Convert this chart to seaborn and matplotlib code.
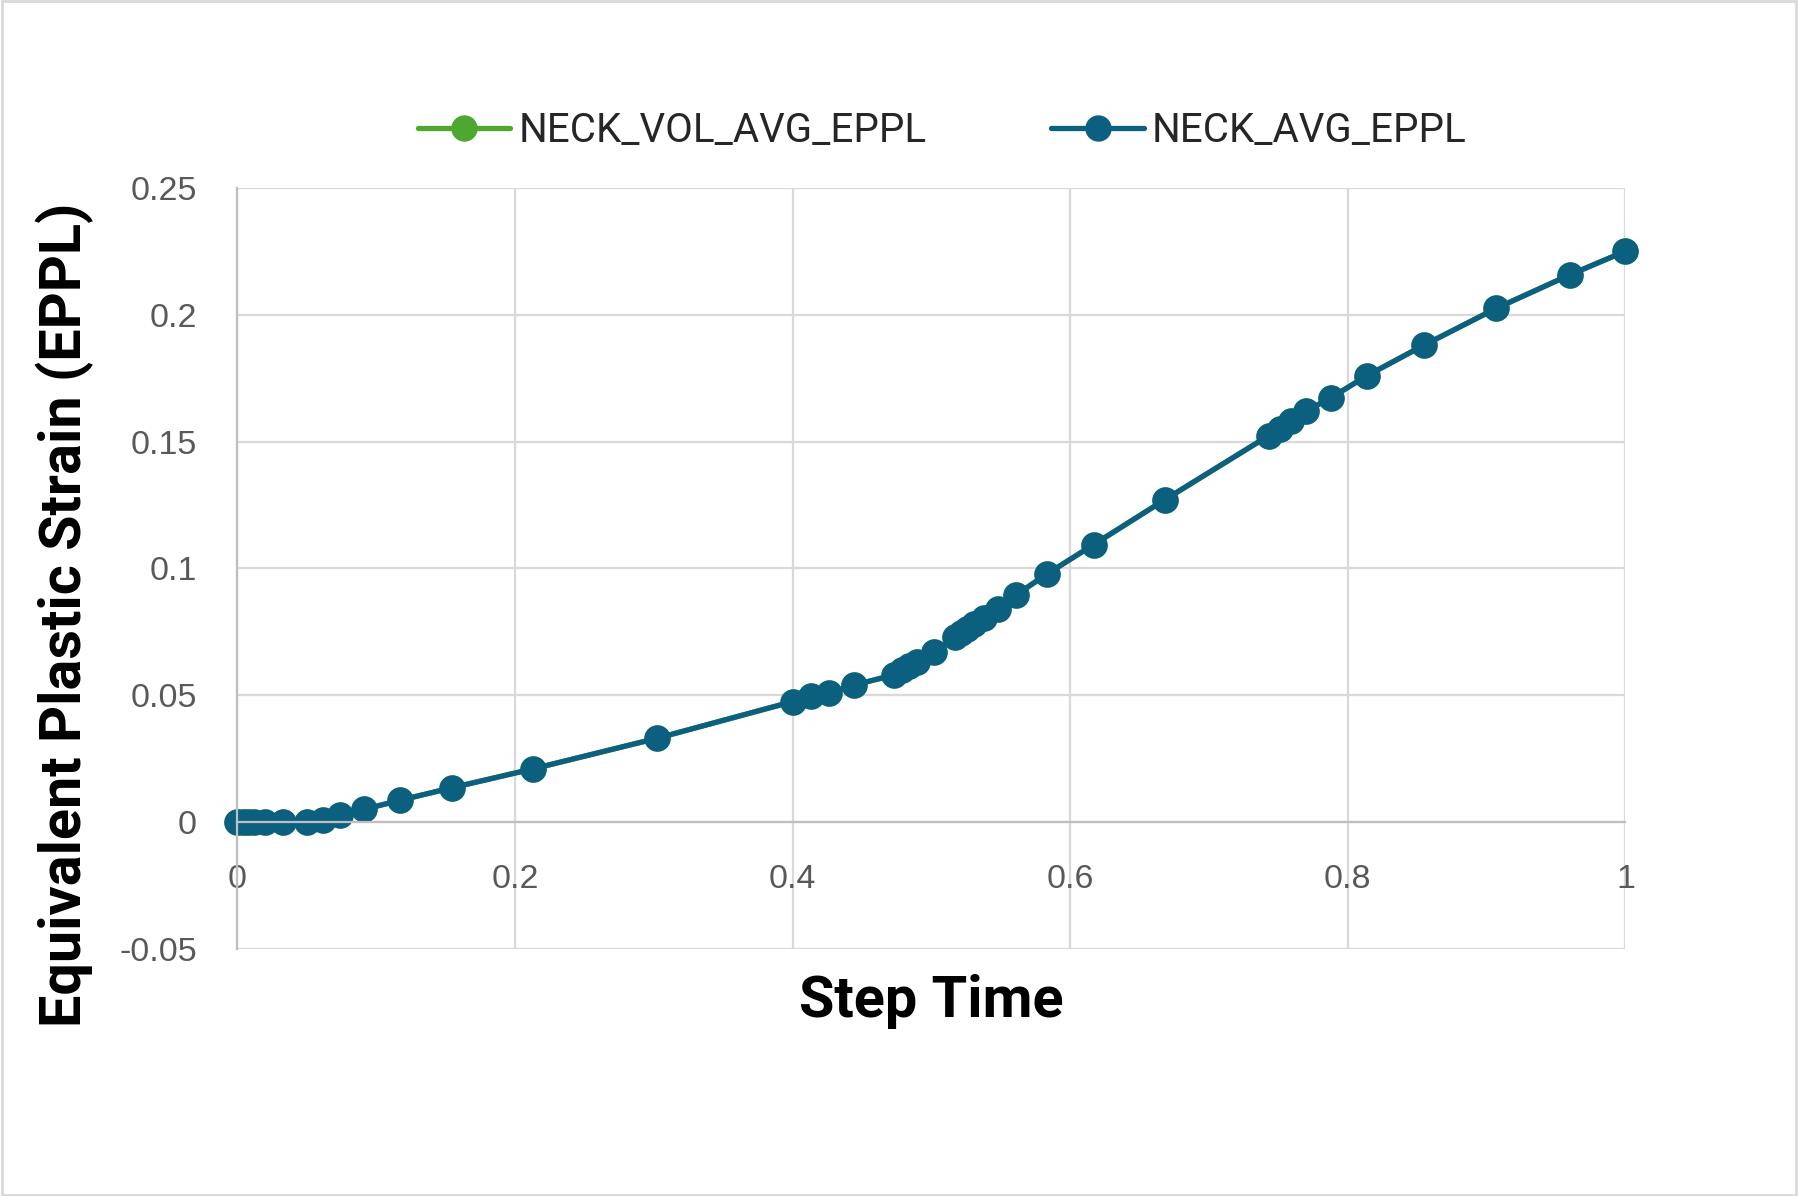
import matplotlib
matplotlib.use("Agg")
import matplotlib.pyplot as plt
import seaborn as sns
import pandas as pd
from matplotlib.patches import Rectangle

step_time = [0.0, 0.004, 0.008, 0.012, 0.02, 0.033, 0.05, 0.062, 0.074, 0.091,
             0.117, 0.155, 0.213, 0.302, 0.400, 0.413, 0.426, 0.444, 0.473, 0.479,
             0.484, 0.490, 0.502, 0.517, 0.521, 0.526, 0.531, 0.538, 0.548, 0.561,
             0.583, 0.617, 0.668, 0.743, 0.751, 0.759, 0.770, 0.788, 0.814, 0.855,
             0.907, 0.960, 1.000]
neck_avg_eppl = [0.0, 0.0, 0.0, 0.0, 0.0, 0.0, 0.0, 0.001, 0.0027, 0.005,
                 0.0086, 0.0136, 0.021, 0.033, 0.0475, 0.0497, 0.051, 0.054, 0.058, 0.060,
                 0.0615, 0.063, 0.067, 0.073, 0.0746, 0.076, 0.078, 0.0805, 0.084, 0.0895,
                 0.0977, 0.1094, 0.127, 0.1523, 0.155, 0.158, 0.162, 0.1673, 0.176, 0.188,
                 0.2025, 0.2157, 0.225]
neck_vol_avg_eppl = list(neck_avg_eppl)

series_names = ["NECK_VOL_AVG_EPPL", "NECK_AVG_EPPL"]
series_colors = ["#4EA72E", "#0B6080"]
x_ticks = [0, 0.2, 0.4, 0.6, 0.8, 1]
x_ticklabels = ["0", "0.2", "0.4", "0.6", "0.8", "1"]
y_ticks = [-0.05, 0, 0.05, 0.1, 0.15, 0.2, 0.25]
y_ticklabels = ["-0.05", "0", "0.05", "0.1", "0.15", "0.2", "0.25"]

df = pd.DataFrame({
    "Step Time": step_time + step_time,
    "EPPL": neck_vol_avg_eppl + neck_avg_eppl,
    "Series": [series_names[0]] * len(step_time) + [series_names[1]] * len(step_time),
})

sns.set_theme(style="white")
plt.rcParams["font.family"] = ["Liberation Sans", "DejaVu Sans"]

fig = plt.figure(figsize=(17.98, 11.96), dpi=100)
ax = fig.add_axes([0.132, 0.2065, 0.772, 0.6365])

sns.lineplot(data=df, x="Step Time", y="EPPL", hue="Series", hue_order=series_names,
             palette=series_colors, estimator=None, sort=False, marker="o",
             markersize=19, markeredgewidth=0, linewidth=3.8, legend=False, ax=ax)
for ln in ax.lines:
    ln.set_clip_on(False)

ax.set_xlim(0, 1)
ax.set_ylim(-0.05, 0.25)
ax.set_xticks(x_ticks)
ax.set_xticklabels(x_ticklabels)
ax.set_yticks(y_ticks)
ax.set_yticklabels(y_ticklabels)
ax.grid(True, color="#d9d9d9", linewidth=1.6)
ax.set_axisbelow(True)
for s in ["top", "right"]:
    ax.spines[s].set_visible(False)
ax.spines["left"].set_color("#bfbfbf")
ax.spines["left"].set_linewidth(1.6)
ax.spines["bottom"].set_position(("data", 0))
ax.spines["bottom"].set_color("#bfbfbf")
ax.spines["bottom"].set_linewidth(1.6)
ax.tick_params(axis="x", length=0, pad=30, labelsize=24.5, labelcolor="#595959")
ax.tick_params(axis="y", length=0, pad=29, labelsize=24.5, labelcolor="#595959")
for lab in ax.get_xticklabels() + ax.get_yticklabels():
    lab.set_family(["Liberation Sans", "DejaVu Sans"])

ax.set_xlabel("")
ax.set_ylabel("")
label_font = ["Roboto", "DejaVu Sans"]
fig.text(0.036, 0.486, "Equivalent Plastic Strain (EPPL)", rotation=90, ha="center",
         va="center", fontsize=41.5, fontweight="bold", family=label_font, color="black")
fig.text(0.518, 0.163, "Step Time", ha="center", va="center", fontsize=41.5,
         fontweight="bold", family=label_font, color="black")

handles = ax.lines[:2]
fig.legend(handles=handles, labels=series_names, loc="center", bbox_to_anchor=(0.524, 0.891),
           ncol=2, frameon=False, handlelength=2.3, handletextpad=0.2, columnspacing=3.1,
           prop={"family": label_font, "size": 29})

fig.patches.append(Rectangle((0.001, 0.001), 0.998, 0.998, transform=fig.transFigure,
                             fill=False, edgecolor="#d9d9d9", linewidth=2))

fig.savefig("out.png", dpi=100)
